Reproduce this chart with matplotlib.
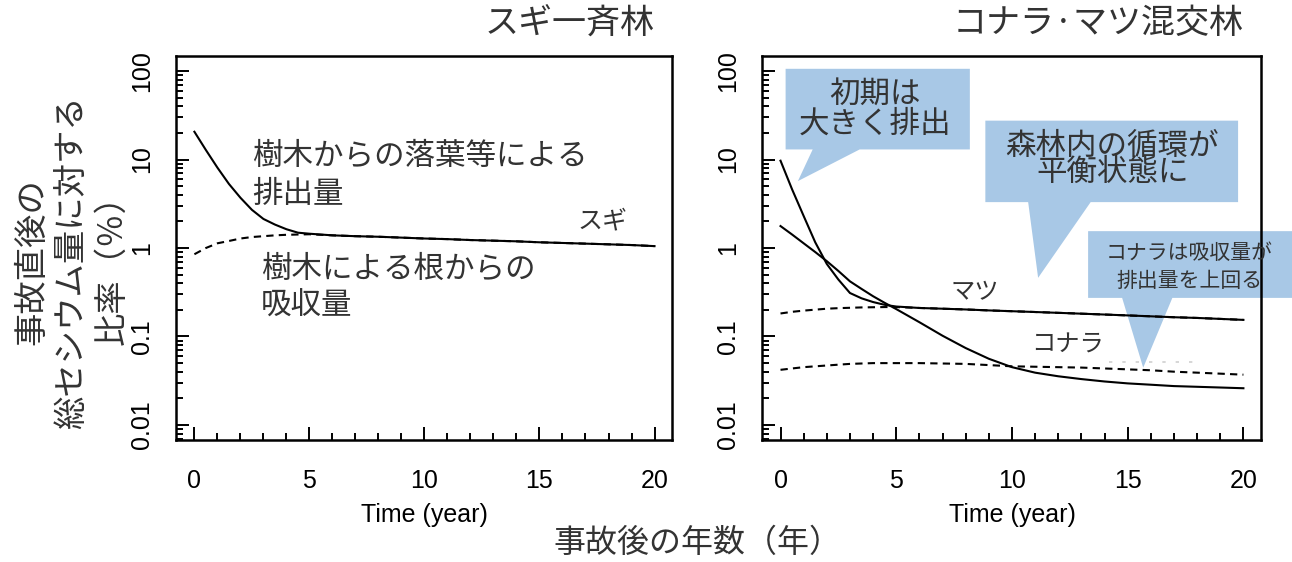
import matplotlib
matplotlib.use('Agg')
import matplotlib.pyplot as plt
import matplotlib.transforms as mtransforms
from matplotlib.patches import Polygon
from matplotlib.ticker import FixedLocator, LogLocator, FuncFormatter, MultipleLocator

JP = ['Noto Sans CJK JP', 'DejaVu Sans']
plt.rcParams['font.family'] = ['Liberation Sans', 'DejaVu Sans']

# --- data (percent of total Cs just after the accident) ---
sugi_years = [0, 0.5, 1, 1.5, 2, 2.5, 3, 3.5, 4, 4.5, 5, 6, 7, 8, 9, 10,
              11, 12, 13, 14, 15, 16, 17, 18, 19, 20]
sugi_out = [20.6, 12.8, 8.1, 5.3, 3.7, 2.7, 2.13, 1.84, 1.63, 1.49, 1.45, 1.39, 1.36,
            1.34, 1.31, 1.28, 1.26, 1.23, 1.21, 1.19, 1.16, 1.14, 1.12, 1.10, 1.08, 1.05]
sugi_in = [0.85, 1.0, 1.13, 1.2, 1.28, 1.33, 1.36, 1.39, 1.41, 1.42, 1.43, 1.39, 1.36,
           1.34, 1.31, 1.28, 1.26, 1.23, 1.21, 1.19, 1.16, 1.14, 1.12, 1.10, 1.08, 1.05]

mix_years = [0, 0.5, 1, 1.5, 2, 2.5, 3, 3.5, 4, 4.5, 5, 6, 7, 8, 9, 10,
             11, 12, 13, 14, 15, 16, 17, 18, 19, 20]
matsu_out = [9.7, 4.6, 2.3, 1.16, 0.66, 0.44, 0.31, 0.27, 0.245, 0.228, 0.218, 0.21, 0.206,
             0.202, 0.197, 0.193, 0.189, 0.185, 0.181, 0.177, 0.173, 0.169, 0.165, 0.162,
             0.158, 0.154]
matsu_in = [0.182, 0.19, 0.196, 0.201, 0.206, 0.209, 0.211, 0.213, 0.214, 0.215, 0.215, 0.21,
            0.206, 0.202, 0.197, 0.193, 0.189, 0.185, 0.181, 0.177, 0.173, 0.169, 0.165,
            0.162, 0.158, 0.154]
konara_out = [1.77, 1.42, 1.13, 0.9, 0.71, 0.55, 0.42, 0.345, 0.285, 0.24, 0.204, 0.145,
              0.102, 0.074, 0.056, 0.045, 0.039, 0.0355, 0.033, 0.031, 0.0295, 0.0285,
              0.0275, 0.027, 0.0265, 0.026]
konara_in = [0.042, 0.0435, 0.045, 0.046, 0.047, 0.048, 0.049, 0.0495, 0.050, 0.050, 0.050,
             0.050, 0.0495, 0.049, 0.0475, 0.046, 0.0455, 0.045, 0.0445, 0.0435, 0.0425,
             0.0415, 0.040, 0.039, 0.038, 0.037]
faint_x = [14.2, 17.9]
faint_y = [0.052, 0.052]

yticks = [0.01, 0.1, 1, 10, 100]
xticks = [0, 5, 10, 15, 20]

BLUE = '#a8c8e6'
GREY = '#333333'
DASH = (0, (3.5, 2.5))

fig = plt.figure(figsize=(12.92, 5.62), dpi=100)
ax1 = fig.add_axes([176 / 1292, 1 - 440 / 562, 496 / 1292, 384 / 562])
ax2 = fig.add_axes([762 / 1292, 1 - 440 / 562, 499 / 1292, 384 / 562])


def style_axes(ax):
    ax.set_yscale('log')
    ax.set_ylim(10 ** -2.17, 10 ** 2.17)
    ax.set_xlim(-0.8, 20.76)
    ax.yaxis.set_major_locator(FixedLocator(yticks))
    ax.yaxis.set_minor_locator(LogLocator(base=10, subs=range(2, 10)))
    ax.yaxis.set_major_formatter(FuncFormatter(lambda v, p: '%g' % v))
    ax.yaxis.set_minor_formatter(FuncFormatter(lambda v, p: ''))
    ax.xaxis.set_major_locator(FixedLocator(xticks))
    ax.xaxis.set_minor_locator(MultipleLocator(1))
    for s in ax.spines.values():
        s.set_linewidth(1.8)
    ax.tick_params(which='both', direction='in', width=1.4, labelsize=18, top=False, right=False)
    ax.tick_params(which='major', length=9.5)
    ax.tick_params(which='minor', length=5)
    ax.tick_params(axis='x', pad=21)
    ax.tick_params(axis='y', pad=16, labelrotation=90)
    for lab in ax.get_yticklabels():
        lab.set_va('center')
    trans = mtransforms.blended_transform_factory(ax.transData, fig.transFigure)
    ax.text(10, 1 - 515 / 562, 'Time (year)', transform=trans, ha='center', va='center',
            fontsize=18)
    return trans


def callout(ax, x0, x1, y0, y1, bl, br, tip, clip=True):
    verts = [(x0, y0), (bl, y0), tip, (br, y0), (x1, y0), (x1, y1), (x0, y1)]
    p = Polygon(verts, closed=True, facecolor=BLUE, edgecolor='none', zorder=1,
                transform=ax.transData, clip_on=clip)
    ax.add_patch(p)


# ---- left: スギ一斉林 ----
t1 = style_axes(ax1)
ax1.plot(sugi_years, sugi_in, color='black', lw=1.5, ls=DASH, zorder=2)
ax1.plot(sugi_years, sugi_out, color='black', lw=1.5, zorder=3)
ax1.text(20, 1 - 23 / 562, 'スギ一斉林', transform=t1, ha='right', va='center',
         fontsize=24.5, color=GREY, family=JP)
ax1.text(2.5, 11, '樹木からの落葉等による', fontsize=22, color=GREY, family=JP, va='center')
ax1.text(2.5, 4.07, '排出量', fontsize=22, color=GREY, family=JP, va='center')
ax1.text(17.75, 2.02, 'スギ', fontsize=18, color=GREY, family=JP, va='center', ha='center')
ax1.text(2.9, 0.58, '樹木による根からの', fontsize=22, color=GREY, family=JP, va='center')
ax1.text(2.9, 0.221, '吸収量', fontsize=22, color=GREY, family=JP, va='center')

# ---- right: コナラ・マツ混交林 ----
t2 = style_axes(ax2)
ax2.plot(faint_x, faint_y, color='#cfcfcf', lw=1.2, ls=(0, (2, 6)), zorder=2)
ax2.plot(mix_years, matsu_in, color='black', lw=1.5, ls=DASH, zorder=2)
ax2.plot(mix_years, konara_in, color='black', lw=1.5, ls=DASH, zorder=2)
ax2.plot(mix_years, matsu_out, color='black', lw=1.5, zorder=3)
ax2.plot(mix_years, konara_out, color='black', lw=1.5, zorder=3)
ax2.text(20, 1 - 23 / 562, 'コナラ·マツ混交林', transform=t2, ha='right', va='center',
         fontsize=24.5, color=GREY, family=JP)
ax2.text(8.4, 0.32, 'マツ', fontsize=17.5, color=GREY, family=JP, ha='center', va='center')
ax2.text(12.4, 0.08, 'コナラ', fontsize=17.5, color=GREY, family=JP, ha='center', va='center')

callout(ax2, 0.22, 8.18, 13.0, 106, 1.39, 3.42, (0.75, 5.7))
ax2.text(4.07, 37.4, '初期は\n大きく排出', fontsize=22, color=GREY, family=JP,
         ha='center', va='center', multialignment='center', linespacing=0.95)

callout(ax2, 8.85, 19.77, 3.3, 27.5, 10.7, 13.4, (11.13, 0.46))
ax2.text(14.33, 10.1, '森林内の循環が\n平衡状態に', fontsize=22, color=GREY, family=JP,
         ha='center', va='center', multialignment='center', linespacing=0.8)

callout(ax2, 13.29, 22.2, 0.273, 1.55, 14.76, 16.93, (15.67, 0.0444), clip=False)
ax2.text(17.65, 0.61, 'コナラは吸収量が\n排出量を上回る', fontsize=15, color=GREY, family=JP,
         ha='center', va='center', multialignment='center', linespacing=1.3)

# shared labels
fig.text(72 / 1292, 1 - 262 / 562, '事故直後の\n総セシウム量に対する\n比率（％）', rotation=90,
         ha='center', va='center', multialignment='center', fontsize=24, color=GREY, family=JP)
fig.text(697 / 1292, 1 - 543 / 562, '事故後の年数（年）', ha='center', va='center',
         fontsize=23, color=GREY, family=JP)

fig.savefig('out.png', dpi=100)
